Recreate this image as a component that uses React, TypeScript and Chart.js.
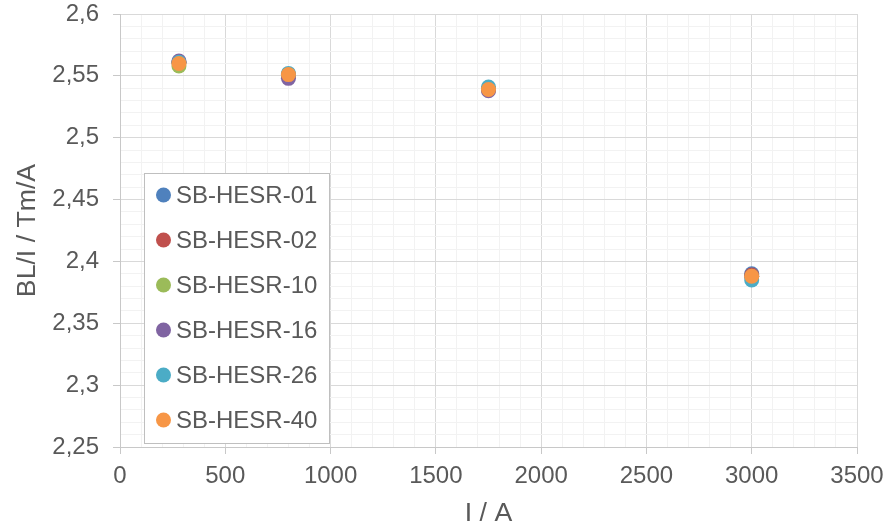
import React, { useEffect, useRef } from "react";
import { Chart, registerables } from "chart.js";

Chart.register(...registerables);

const currents = [280, 800, 1750, 3000];
const seriesNames = ["SB-HESR-01", "SB-HESR-02", "SB-HESR-10", "SB-HESR-16", "SB-HESR-26", "SB-HESR-40"];
const s01 = [2.561, 2.551, 2.539, 2.390];
const s02 = [2.561, 2.550, 2.539, 2.389];
const s10 = [2.558, 2.550, 2.539, 2.388];
const s16 = [2.562, 2.548, 2.538, 2.388];
const s26 = [2.561, 2.552, 2.541, 2.385];
const s40 = [2.560, 2.551, 2.539, 2.388];
const seriesValues = [s01, s02, s10, s16, s26, s40];
const seriesColors = ["#4F81BD", "#C0504D", "#9BBB59", "#8064A2", "#4BACC6", "#F79646"];

const xMin = 0, xMax = 3500, xMinor = 100, xMajor = 500;
const yMin = 2.25, yMax = 2.6, yMinor = 0.01;

const FONT = "'Liberation Sans', Arial, sans-serif";
const TEXT = "#595959";
const MAJOR = "#d9d9d9";
const MINOR = "#f2f2f2";

const legendPlugin = {
  id: "insideLegend",
  afterDraw(chart: any) {
    const { ctx, chartArea } = chart;
    const left = chartArea.left + 24;
    const top = chartArea.top + 159;
    const w = 185;
    const h = 270;
    ctx.save();
    ctx.fillStyle = "#ffffff";
    ctx.fillRect(left, top, w, h);
    ctx.strokeStyle = "#bfbfbf";
    ctx.lineWidth = 1;
    ctx.strokeRect(left + 0.5, top + 0.5, w, h);
    ctx.font = `24px ${FONT}`;
    ctx.textBaseline = "middle";
    ctx.textAlign = "left";
    chart.data.datasets.forEach((ds: any, i: number) => {
      const cy = top + 22 + i * 45;
      ctx.beginPath();
      ctx.fillStyle = ds.backgroundColor;
      ctx.arc(left + 19.5, cy, 7.5, 0, Math.PI * 2);
      ctx.fill();
      ctx.fillStyle = TEXT;
      ctx.fillText(ds.label, left + 32, cy + 1);
    });
    ctx.restore();
  },
};

export default function App() {
  const ref = useRef<HTMLCanvasElement>(null);
  useEffect(() => {
    if (!ref.current) return;
    const chart = new Chart(ref.current, {
      type: "scatter",
      data: {
        datasets: seriesNames.map((name, i) => ({
          label: name,
          data: currents.map((x, j) => ({ x, y: seriesValues[i][j] })),
          backgroundColor: seriesColors[i],
          borderColor: seriesColors[i],
          pointRadius: 7.5,
          pointBorderWidth: 0,
          pointHoverRadius: 7.5,
          order: seriesNames.length - 1 - i,
        })),
      },
      plugins: [legendPlugin],
      options: {
        animation: false,
        responsive: true,
        maintainAspectRatio: false,
        layout: { autoPadding: false, padding: { top: 14, right: 38, left: 0, bottom: 0 } },
        plugins: { legend: { display: false }, tooltip: { enabled: false } },
        scales: {
          x: {
            type: "linear",
            min: xMin,
            max: xMax,
            afterFit: (s: any) => { s.height = 79; s.paddingLeft = 0; s.paddingRight = 0; },
            border: { display: true, color: "#c8c8c8", width: 1 },
            grid: {
              color: (c: any) => (Math.round(c.tick.value) % xMajor === 0 ? MAJOR : MINOR),
              tickColor: (c: any) => (Math.round(c.tick.value) % xMajor === 0 ? "#c8c8c8" : "rgba(0,0,0,0)"),
              tickLength: 7,
              lineWidth: 1,
            },
            ticks: {
              stepSize: xMinor,
              autoSkip: false,
              maxRotation: 0,
              minRotation: 0,
              padding: 8,
              color: TEXT,
              font: { family: FONT, size: 24 },
              callback: (v: any) => (Math.round(v) % xMajor === 0 ? String(Math.round(v)) : ""),
            },
            title: {
              display: true,
              text: "I / A",
              color: TEXT,
              font: { family: FONT, size: 26.67, lineHeight: 1 },
              padding: { top: 0, bottom: -1 },
            },
          },
          y: {
            type: "linear",
            min: yMin,
            max: yMax,
            afterFit: (s: any) => { s.width = 120; s.paddingTop = 0; s.paddingBottom = 0; },
            border: { display: true, color: "#c8c8c8", width: 1 },
            grid: {
              color: (c: any) => (Math.round(c.tick.value * 100) % 5 === 0 ? MAJOR : MINOR),
              tickColor: (c: any) => (Math.round(c.tick.value * 100) % 5 === 0 ? "#c8c8c8" : "rgba(0,0,0,0)"),
              tickLength: 7,
              lineWidth: 1,
            },
            ticks: {
              stepSize: yMinor,
              autoSkip: false,
              padding: 14,
              color: TEXT,
              font: { family: FONT, size: 24 },
              callback: (v: any) => {
                const n = Math.round(v * 100);
                if (n % 5 !== 0) return "";
                return String(n / 100).replace(".", ",");
              },
            },
            title: {
              display: true,
              text: "BL/I / Tm/A",
              color: TEXT,
              font: { family: FONT, size: 26.67, lineHeight: 1 },
              padding: { top: 14, bottom: 0 },
            },
          },
        },
      },
    });
    return () => chart.destroy();
  }, []);
  return (
    <div style={{ position: "fixed", left: 0, top: 0, width: 895, height: 526, background: "#fff" }}>
      <canvas ref={ref} />
    </div>
  );
}
